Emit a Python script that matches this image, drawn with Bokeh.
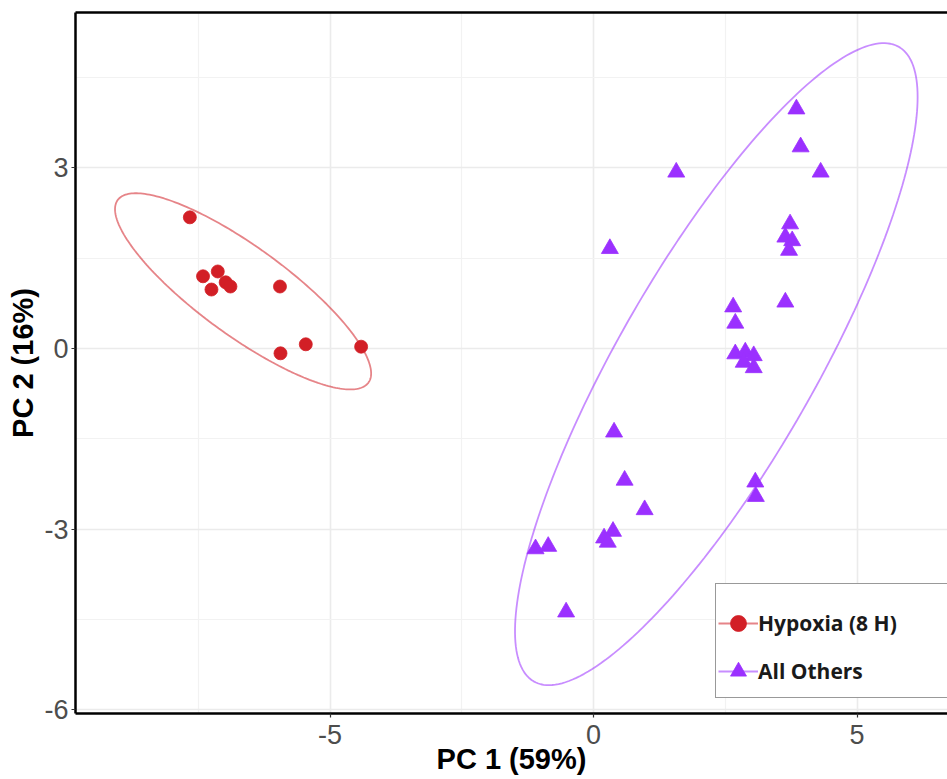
import numpy as np
from bokeh.plotting import figure
from bokeh.models import (Range1d, SingleIntervalTicker, LinearAxis, FixedTicker,
                          Legend, LegendItem, PrintfTickFormatter)
from bokeh.embed import file_html
from bokeh.resources import INLINE

# ---- data ----
hyp_x = [-7.66, -7.41, -7.13, -7.25, -6.98, -6.89, -5.95, -5.94, -5.46, -4.41]
hyp_y = [2.18, 1.20, 1.28, 0.98, 1.10, 1.03, 1.03, -0.08, 0.07, 0.03]

oth_x = [3.85, 3.93, 4.31, 1.57, 3.73, 3.64, 3.77, 3.71, 0.31, 3.64, 2.65, 2.69,
         2.69, 2.88, 3.04, 2.85, 3.04, 0.39, 0.59, 0.97, 3.07, 3.08, 0.37, 0.20,
         0.27, -1.10, -0.86, -0.52]
oth_y = [3.98, 3.35, 2.93, 2.93, 2.07, 1.85, 1.79, 1.63, 1.66, 0.77, 0.69, 0.42,
         -0.09, -0.06, -0.12, -0.23, -0.32, -1.39, -2.19, -2.68, -2.22, -2.46, -3.04, -3.15,
         -3.22, -3.33, -3.29, -4.38]

# ellipse parameters: centre, half extents, correlation
hyp_ell = dict(cx=-6.65, cy=0.95, rx=2.43, ry=1.63, rho=-0.837)
oth_ell = dict(cx=2.33, cy=-0.26, rx=3.82, ry=5.335, rho=0.832)

labels = ["Hypoxia (8 H)", "All Others"]
x_title = "PC 1 (59%)"
y_title = "PC 2 (16%)"

RED = "#d21f26"
PURPLE = "#9b30ff"


def ellipse_path(e, n=240):
    t = np.linspace(0, 2 * np.pi, n)
    x = e["cx"] + e["rx"] * np.cos(t)
    y = e["cy"] + e["ry"] * (e["rho"] * np.cos(t) + np.sqrt(1 - e["rho"] ** 2) * np.sin(t))
    return x, y


p = figure(width=947, height=779, output_backend="svg", toolbar_location=None,
           x_range=Range1d(-9.83, 6.717), y_range=Range1d(-6.066, 5.584),
           min_border_left=75, min_border_right=0, min_border_top=12, min_border_bottom=66)
p.outline_line_color = None
p.background_fill_color = "white"

# tickers / grids
xt = SingleIntervalTicker(interval=5, num_minor_ticks=2)
yt = SingleIntervalTicker(interval=3, num_minor_ticks=2)
p.xaxis.ticker = xt
p.yaxis.ticker = yt
p.xgrid.ticker = xt
p.ygrid.ticker = yt
for g in (p.xgrid, p.ygrid):
    g.grid_line_color = "#ebebeb"
    g.grid_line_width = 1.5
    g.minor_grid_line_color = "#f2f2f2"
    g.minor_grid_line_width = 1.2

for ax in (p.xaxis, p.yaxis):
    ax.formatter = PrintfTickFormatter(format="%d")
    ax.axis_line_color = "black"
    ax.axis_line_width = 2.5
    ax.major_tick_line_color = "#333333"
    ax.major_tick_line_width = 1.2
    ax.major_tick_out = 4
    ax.major_tick_in = 0
    ax.minor_tick_line_color = None
    ax.major_label_text_font = "Liberation Sans"
    ax.major_label_text_font_size = "27px"
    ax.major_label_text_color = "#4d4d4d"
    ax.axis_label_text_font = "Liberation Sans"
    ax.axis_label_text_font_style = "bold"
    ax.axis_label_text_font_size = "29px"
    ax.axis_label_text_color = "black"

p.xaxis.axis_label = x_title
p.yaxis.axis_label = y_title
p.xaxis.major_label_standoff = 7
p.xaxis.axis_label_standoff = -4
p.yaxis.major_label_standoff = 3
p.yaxis.axis_label_standoff = 2

top_axis = LinearAxis(ticker=FixedTicker(ticks=[]), axis_line_color="black", axis_line_width=2.5,
                      major_tick_line_color=None, minor_tick_line_color=None,
                      major_tick_out=0, major_tick_in=0, minor_tick_out=0,
                      major_label_text_font_size="0px", major_label_standoff=0)
p.add_layout(top_axis, "above")

# ellipses
hx, hy = ellipse_path(hyp_ell)
ox, oy = ellipse_path(oth_ell)
r_el = p.line(hx, hy, line_color=RED, line_alpha=0.55, line_width=1.8)
o_el = p.line(ox, oy, line_color=PURPLE, line_alpha=0.55, line_width=1.8)

# points
r_pts = p.scatter(x=hyp_x, y=hyp_y, marker="circle", size=13,
                  fill_color=RED, line_color=RED, line_width=0.8)
o_pts = p.scatter(x=oth_x, y=oth_y, marker="triangle", size=17,
                  fill_color=PURPLE, line_color=PURPLE, line_width=0.8)

legend = Legend(items=[LegendItem(label=labels[0], renderers=[r_el, r_pts]),
                       LegendItem(label=labels[1], renderers=[o_el, o_pts])],
                location=(640, 15), orientation="vertical",
                title=" ", title_text_font_size="7px", title_standoff=6,
                padding=2, spacing=0, margin=0,
                glyph_width=40, glyph_height=48, label_height=48, label_width=200,
                label_standoff=0,
                label_text_font="Open Sans", label_text_font_style="bold",
                label_text_font_size="21px", label_text_color="#1a1a1a",
                border_line_color="#333333", border_line_width=1.5,
                background_fill_color="white", background_fill_alpha=1.0)
p.add_layout(legend)

open("out.html", "w").write(file_html(p, INLINE))
